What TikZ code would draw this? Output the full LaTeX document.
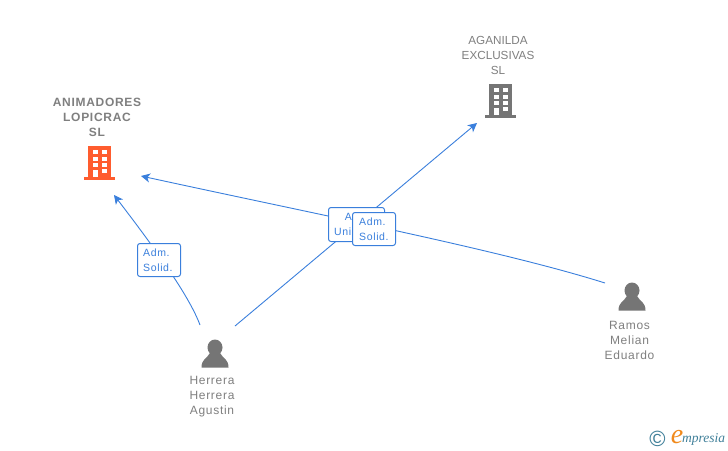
\documentclass[tikz,border=0pt]{standalone}
\usepackage{fontspec}
\setmainfont{Liberation Sans}
\newfontfamily\logofont{Liberation Serif}
\usetikzlibrary{arrows.meta,positioning}
\definecolor{linkblue}{HTML}{3A7FDC}
\definecolor{namegray}{HTML}{7F7F7F}
\definecolor{iconorange}{HTML}{FF5C2E}
\definecolor{icongray}{HTML}{757575}
\definecolor{logoteal}{HTML}{3F7F99}
\definecolor{logoorange}{HTML}{F08A1D}
\tikzset{
  link/.style={linkblue,line width=0.9pt,-{Stealth[length=9pt,width=9pt,inset=2.5pt]}},
  rolebox/.style={draw=linkblue,line width=1pt,fill=white,rounded corners=2.5pt,anchor=north west},
  roletext/.style={text=linkblue,font=\fontsize{10.5}{15}\selectfont\addfontfeature{LetterSpace=6},align=left,inner sep=0pt,anchor=north west},
  namelabel/.style={text=namegray,font=\fontsize{12}{15}\selectfont\addfontfeature{LetterSpace=6},align=center,inner sep=0pt},
  building/.pic={
    \fill[pic actions] (-11.5,-17) rectangle (11.5,14);
    \fill[pic actions] (-15.5,14) rectangle (15.5,17);
    \foreach \yy in {-13,-6,0}
      \foreach \xx in {-6.5,2.5}
        \fill[white] (\xx,\yy) rectangle ++(4.5,4);
    \fill[white] (2.5,6) rectangle ++(4.5,4);
    \fill[white] (-6.5,7) rectangle (-2,14);
  },
  person/.pic={
    \fill[icongray] (0,-6.5) ellipse (7.5 and 8);
    \fill[icongray] (-13.5,13.5) .. controls (-13.5,5) and (-8,4.5) .. (-5,-1)
      -- (5,-1) .. controls (8,4.5) and (13.5,5) .. (13.5,13.5) -- cycle;
  }
}
\begin{document}
\begin{tikzpicture}[x=1pt,y=-1pt]
  \useasboundingbox (0,0) rectangle (728,450);

  % companies
  \pic[fill=iconorange] at (99.5,163) {building};
  \pic[fill=icongray] at (500.5,101) {building};
  \node[namelabel,font=\fontsize{12}{15}\selectfont\bfseries\addfontfeature{LetterSpace=6}] (animadores) at (97,117) {ANIMADORES\\LOPICRAC\\SL};
  \node[namelabel,font=\fontsize{11.7}{15}\selectfont] (aganilda) at (498,55) {AGANILDA\\EXCLUSIVAS\\SL};

  % people
  \pic at (215,354) {person};
  \pic at (632,297) {person};
  \node[namelabel] (herrera) at (212,397) {Herrera\\Herrera\\Agustin};
  \node[namelabel] (ramos) at (629.5,340) {Ramos\\Melian\\Eduardo};

  % connector ends
  \coordinate (herreraA) at (200,325);
  \coordinate (herreraB) at (235,326);
  \coordinate (ramosA) at (605,283);
  \coordinate (animadoresA) at (114,195);
  \coordinate (animadoresB) at (141,176);
  \coordinate (aganildaA) at (477,123);

  \draw[link] (herreraA) .. controls (190,298) and (160,255) .. (animadoresA);
  \draw[link] (herreraB) -- (aganildaA);
  \draw[link] (ramosA) .. controls (500,250) and (320,215) .. (animadoresB);

  % role boxes
  \node[rolebox,minimum width=43pt,minimum height=33pt] (solidA) at (137,243) {};
  \node[rolebox,minimum width=56pt,minimum height=34pt] (unico) at (328,207) {};
  \node[roletext] (unicotext) at (334,213) {\ \ \ Adm.\\Unico};
  \node[rolebox,minimum width=43pt,minimum height=33pt] (solidB) at (352,212) {};
  \node[roletext] (solidAtext) at (143,249) {Adm.\\Solid.};
  \node[roletext] (solidBtext) at (359,217.5) {Adm.\\Solid.};

  % logo
  \node[text=logoteal,font=\fontsize{22}{22}\selectfont,inner sep=0pt] (copyr) at (657.5,438.5) {©};
  \node[text=logoorange,font=\logofont\itshape\fontsize{28}{28}\selectfont,inner sep=0pt] (logoe) at (677,437.5) {e};
  \node[text=logoteal,font=\logofont\itshape\fontsize{13.5}{13.5}\selectfont,inner sep=0pt,anchor=west] (logotext) at (682,439) {mpresia};
\end{tikzpicture}
\end{document}
